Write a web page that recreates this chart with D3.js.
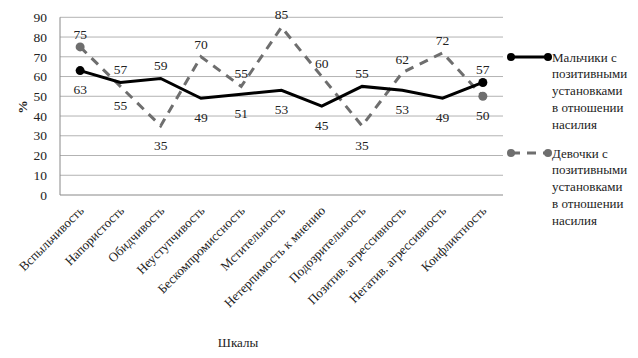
<!DOCTYPE html>
<html><head><meta charset="utf-8">
<script src="https://cdn.jsdelivr.net/npm/d3@7"></script>
<style>body{margin:0;background:#fff}svg{display:block}</style>
</head><body><svg id="c" width="638" height="358"></svg>
<script>
const categories = ["Вспыльчивость","Напористость","Обидчивость","Неуступчивость","Бескомпромиссность","Мстительность","Нетерпимость к мнению","Подозрительность","Позитив. агрессивность","Негатив. агрессивность","Конфликтность"];
const boys = [63,57,59,49,51,53,45,55,53,49,57];
const girls = [75,55,35,70,55,85,60,35,62,72,50];
const boysLabelPos = ["b","a","a","b","b","b","b","a","b","b","a"];
const girlsLabelPos = ["a","b","b","a","a","a","a","b","a","a","b"];
const yTicks = [0,10,20,30,40,50,60,70,80,90];
const legendLines = [["Мальчики с","позитивными","установками","в отношении","насилия"],["Девочки с","позитивными","установками","в отношении","насилия"]];

const cands = ["Liberation Serif","Times New Roman","Tinos","DejaVu Serif","Noto Serif"];
const ctx = document.createElement("canvas").getContext("2d");
function w(f){ctx.font="20px "+f;return ctx.measureText("Шкалы Вспыльчивость 0123").width;}
let chosen = null;
for (const c of cands){ if (w(`"${c}", monospace`)!==w("monospace") && w(`"${c}", sans-serif`)!==w("sans-serif")) {chosen=c;break;} }
const FONT = chosen ? `"${chosen}", serif` : "serif";

const svg = d3.select("#c").attr("font-family", FONT);
const L=60, R=503, T=17.3, B=195;
const x = d3.scaleBand().domain(categories).range([L,R]);
const y = d3.scaleLinear().domain([0,90]).range([B,T]);
const cx = d => x(d)+x.bandwidth()/2;
const txt = "#222";

svg.append("g").selectAll("line").data(yTicks.filter(d=>d>0)).join("line")
  .attr("x1",L).attr("x2",R).attr("y1",d=>y(d)).attr("y2",d=>y(d))
  .attr("stroke","#b3b3b3").attr("stroke-width",1);
svg.append("line").attr("x1",L).attr("x2",L).attr("y1",T).attr("y2",B).attr("stroke","#888");
svg.append("line").attr("x1",L).attr("x2",R).attr("y1",B).attr("y2",B).attr("stroke","#888");

svg.append("g").selectAll("text").data(yTicks).join("text")
  .attr("x",47).attr("y",d=>y(d)).attr("dy","0.35em").attr("text-anchor","end")
  .attr("font-size",13.5).attr("fill",txt).text(d=>d);

svg.append("g").selectAll("text").data(categories).join("text")
  .attr("transform",d=>`translate(${cx(d)-2},${B+10}) rotate(-45)`)
  .attr("text-anchor","end").attr("dy","0.7em").attr("font-size",13).attr("fill",txt).text(d=>d);

svg.append("text").attr("transform","translate(22,107) rotate(-90)").attr("text-anchor","middle")
  .attr("dy","0.35em").attr("font-size",13.5).attr("font-weight","bold").attr("fill",txt).text("%");
svg.append("text").attr("x",238).attr("y",347).attr("text-anchor","middle").attr("font-size",13).attr("fill",txt).text("Шкалы");

const line = d3.line().x((d,i)=>cx(categories[i])).y(d=>y(d));
const gray = "#6e6e6e";
svg.append("path").datum(girls).attr("d",line).attr("fill","none").attr("stroke",gray)
  .attr("stroke-width",3).attr("stroke-dasharray","9,7");
svg.append("path").datum(boys).attr("d",line).attr("fill","none").attr("stroke","#000")
  .attr("stroke-width",3);
[[girls,gray],[boys,"#000"]].forEach(([s,c])=>{
  [0,s.length-1].forEach(i=>{
    svg.append("circle").attr("cx",cx(categories[i])).attr("cy",y(s[i])).attr("r",4.5).attr("fill",c);
  });
});
function labels(s,pos){
  svg.append("g").selectAll("text").data(s).join("text")
    .attr("x",(d,i)=>cx(categories[i])).attr("y",(d,i)=>y(d)+(pos[i]==="a"?-13:19))
    .attr("dy","0.35em").attr("text-anchor","middle").attr("font-size",13.5).attr("fill",txt).text(d=>d);
}
labels(boys,boysLabelPos);
labels(girls,girlsLabelPos);

const legY=[57,153];
[["#000",null],[gray,"9,7"]].forEach(([c,dash],k)=>{
  const g=svg.append("g");
  g.append("line").attr("x1",511).attr("x2",548).attr("y1",legY[k]).attr("y2",legY[k])
    .attr("stroke",c).attr("stroke-width",3).attr("stroke-dasharray",dash);
  g.append("circle").attr("cx",511).attr("cy",legY[k]).attr("r",4).attr("fill",c);
  g.append("circle").attr("cx",548).attr("cy",legY[k]).attr("r",4).attr("fill",c);
  legendLines[k].forEach((t,j)=>{
    g.append("text").attr("x",552).attr("y",legY[k]+j*16.8).attr("dy","0.35em").attr("font-size",13).attr("fill",txt).text(t);
  });
});
</script></body></html>
